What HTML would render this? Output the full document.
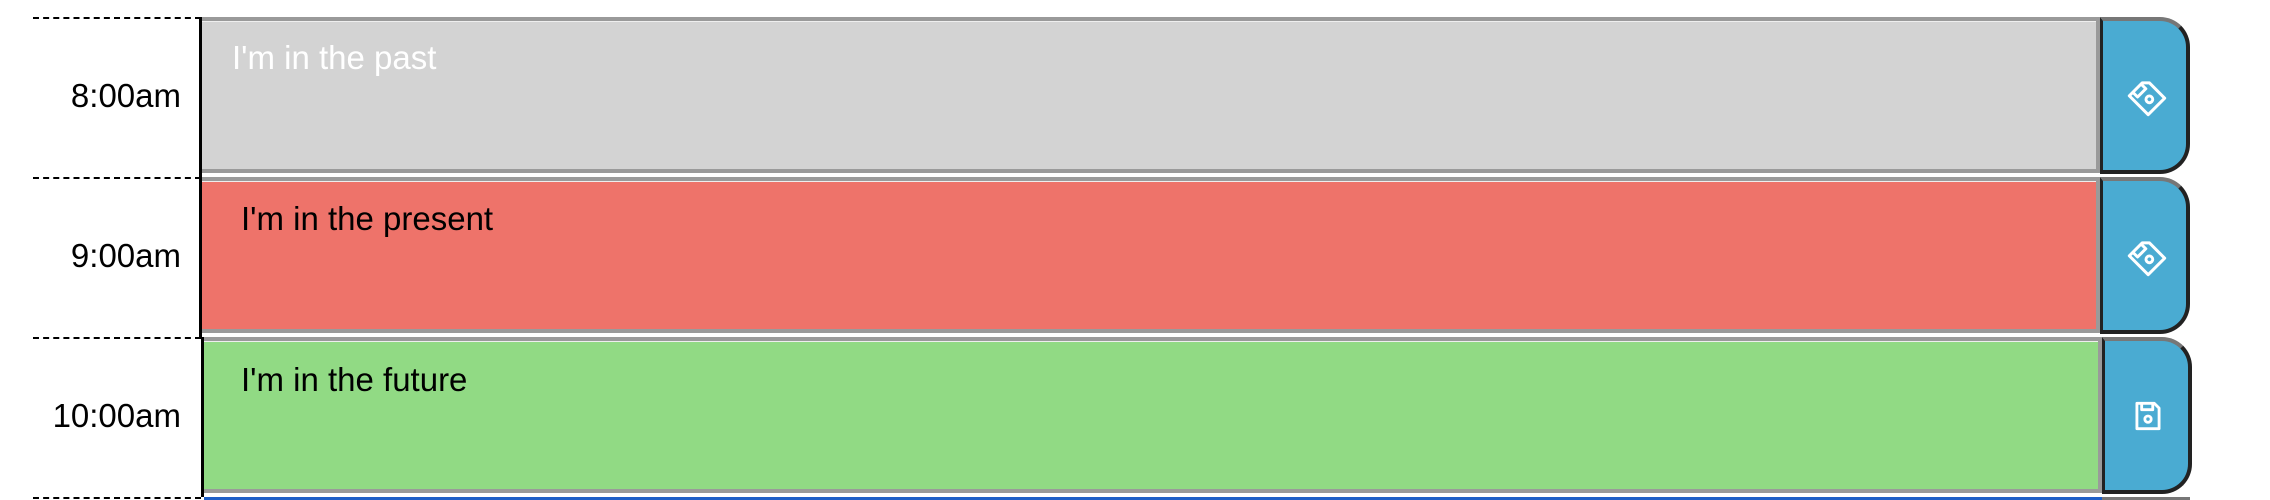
<!DOCTYPE html>
<html style="overflow:hidden;height:500px"><head><meta charset="utf-8"><style>
body{margin:0;width:2270px;height:500px;background:#fff;overflow:hidden;position:relative;font-family:"Liberation Sans",sans-serif}
.row{position:absolute;left:0;width:2270px;height:160px}
.dash{position:absolute;left:33px;width:168px;top:0;border-top:2px dashed #000}
.time{position:absolute;left:0;width:181px;text-align:right;top:60px;font-size:33px;color:#000}
.vline{position:absolute;left:199px;width:3px;top:0;height:160px;background:#000}
.ta{position:absolute;left:202px;width:1898px;top:0;height:156px;box-sizing:border-box;border:4px solid #9a9a9a;border-left:none;box-shadow:inset 0 1px 0 #eee}
.ta span{position:absolute;font-size:33px}
.btn{position:absolute;left:2100px;width:90px;top:0;height:157px;box-sizing:border-box;background:#4aabd2;border:4px solid #222;border-top-color:#777;border-left-width:3px;border-radius:0 30px 30px 0}
.btn svg{position:absolute;left:24px;top:56px}
</style></head><body>
<div class="row" style="top:17px">
<div class="dash"></div>
<div class="time">8:00am</div>
<div class="vline"></div>
<div class="ta" style="background:#d3d3d3"><span style="left:30px;top:18px;color:#fff">I'm in the past</span></div>
<div class="btn"><svg width="40" height="40" viewBox="0 0 24 24" fill="none" stroke="#fff" stroke-width="1.8" stroke-linejoin="round"><g transform="rotate(-45 12 12)"><path d="M5 4h11l3 3v13H5z"/><circle cx="12" cy="14" r="2"/><path d="M8 4v4h7V4"/></g></svg></div>
</div>
<div class="row" style="top:177px">
<div class="dash"></div>
<div class="time">9:00am</div>
<div class="vline"></div>
<div class="ta" style="background:#ee736a"><span style="left:39px;top:19px;color:#000">I'm in the present</span></div>
<div class="btn"><svg width="40" height="40" viewBox="0 0 24 24" fill="none" stroke="#fff" stroke-width="1.8" stroke-linejoin="round"><g transform="rotate(-45 12 12)"><path d="M5 4h11l3 3v13H5z"/><circle cx="12" cy="14" r="2"/><path d="M8 4v4h7V4"/></g></svg></div>
</div>
<div class="row" style="top:337px">
<div class="dash"></div>
<div class="time">10:00am</div>
<div class="vline" style="left:201px"></div>
<div class="ta" style="background:#91da84;left:204px;width:1898px"><span style="left:37px;top:20px;color:#000">I'm in the future</span></div>
<div class="btn" style="left:2102px"><svg width="38" height="38" viewBox="0 0 24 24" fill="none" stroke="#fff" stroke-width="1.8" stroke-linejoin="round"><path d="M5 4h11l3 3v13H5z"/><circle cx="12" cy="14" r="2"/><path d="M8 4v4h7V4"/></svg></div>
</div>
<div class="row" style="top:497px;height:3px;overflow:hidden">
<div class="dash"></div>
<div style="position:absolute;left:204px;width:1898px;top:0;height:3px;background:#1e5fc8"></div>
<div style="position:absolute;left:2102px;width:88px;top:0;height:3px;background:#777"></div>
</div>
</body></html>
